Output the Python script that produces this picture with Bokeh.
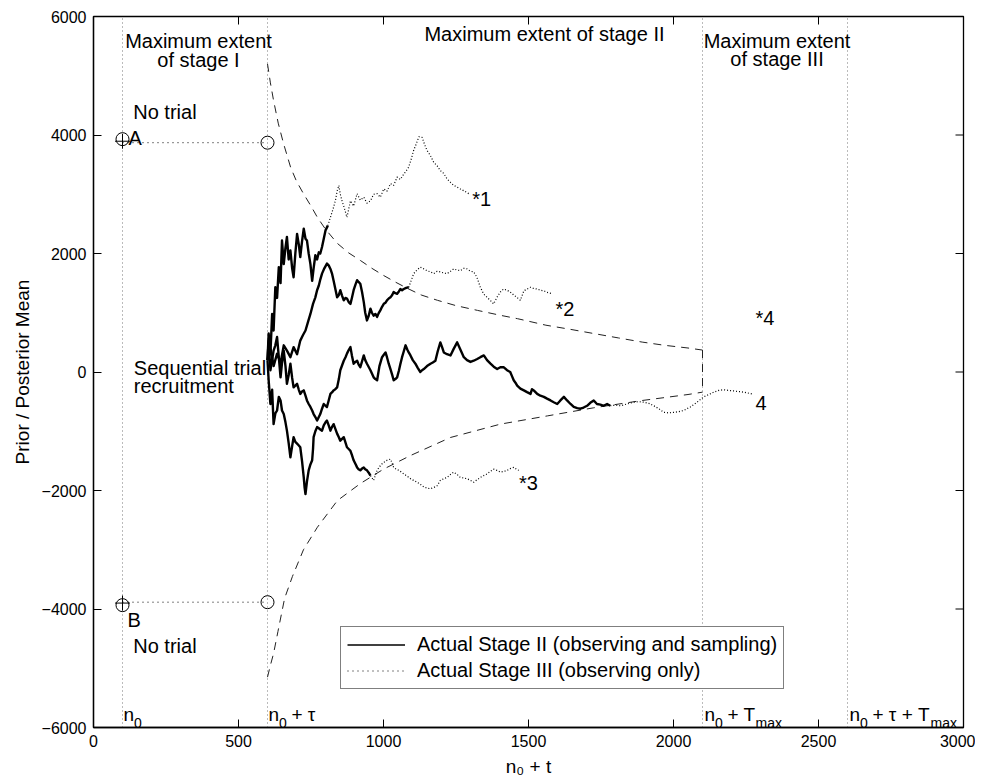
import math
from bokeh.plotting import figure
from bokeh.models import FixedTicker, Legend, LegendItem, Range1d, CustomJSTickFormatter
from bokeh.core.properties import value
from bokeh.embed import file_html
from bokeh.resources import INLINE

FONT = "Liberation Sans"

# ---------------- data ----------------
x_ticks = [0, 500, 1000, 1500, 2000, 2500, 3000]
y_ticks = [-6000, -4000, -2000, 0, 2000, 4000, 6000]
stage_x = [100, 600, 2100, 2600]

# prior means that lead to "no trial" (A above, B below)
ab_x = [100, 600]
a_circle_y = [3930, 3870]
a_plus_y = 3895
b_circle_y = [-3935, -3885]
b_plus_y = -3900

# stopping boundaries (dashed)
upper_x = [600, 610, 621, 637, 655, 680, 700, 724, 750, 772, 800, 841, 880, 921, 960, 1000,
           1040, 1083, 1130, 1186, 1250, 1324, 1400, 1462, 1560, 1650, 1730, 1810, 1892, 1970,
           2050, 2100]
upper_y = [5200, 4880, 4580, 4200, 3860, 3450, 3220, 3010, 2800, 2610, 2410, 2170, 2010, 1880,
           1750, 1630, 1520, 1410, 1300, 1210, 1120, 1040, 960, 900, 790, 715, 645, 575, 505,
           450, 405, 370]
lower_x = [600, 610, 621, 636, 659, 686, 724, 772, 841, 921, 1000, 1093, 1231, 1403, 1566,
           1725, 1892, 2050, 2100]
lower_y = [-5150, -4950, -4750, -4380, -3820, -3450, -3000, -2620, -2170, -1880, -1640, -1410,
           -1105, -880, -740, -604, -481, -380, -340]

# path 1 (ends at *1)
p1_s2_x = [600, 604, 610, 616, 621, 627, 633, 639, 645, 650, 656, 662, 667, 673, 679, 685, 690,
           696, 702, 708, 713, 719, 725, 731, 736, 742, 748, 754, 759, 765, 771, 777, 782, 788,
           794, 800, 808]
p1_s2_y = [200, 650, 300, 980, 700, 1430, 1250, 1770, 1500, 2220, 1820, 2100, 2280, 1900, 2050,
           1750, 1600, 2000, 2330, 2150, 1940, 2200, 2420, 2250, 2220, 2000, 1820, 1540, 1750,
           1970, 1900, 2020, 2000, 2110, 2250, 2390, 2470]
p1_s3_x = [808, 817, 826, 834, 840, 846, 851, 857, 866, 874, 880, 886, 897, 909, 920, 932, 943,
           955, 966, 978, 989, 1001, 1012, 1024, 1035, 1047, 1058, 1070, 1079, 1087, 1096, 1104,
           1113, 1122, 1133, 1141, 1150, 1162, 1173, 1185, 1196, 1208, 1219, 1231, 1242, 1254,
           1265, 1280, 1294]
p1_s3_y = [2470, 2610, 2750, 2890, 3050, 3150, 3000, 2890, 2750, 2610, 2750, 2890, 2800, 3010,
           2900, 2950, 2850, 2890, 3000, 3010, 2950, 3090, 3050, 3180, 3150, 3290, 3250, 3340,
           3400, 3460, 3600, 3740, 3850, 3970, 3960, 3850, 3740, 3650, 3540, 3480, 3400, 3350,
           3260, 3200, 3150, 3120, 3090, 3050, 3010]

# path 2 (ends at *2)
p2_s2_x = [600, 610, 621, 633, 645, 656, 667, 679, 690, 702, 713, 722, 731, 740, 748, 757, 765,
           771, 777, 782, 788, 796, 805, 811, 817, 823, 828, 834, 840, 846, 851, 857, 863, 869,
           874, 880, 886, 891, 897, 903, 909, 914, 920, 926, 932, 937, 943, 949, 955, 960, 966,
           972, 978, 983, 989, 995, 1001, 1007, 1012, 1018, 1024, 1030, 1035, 1041, 1047, 1053,
           1058, 1064, 1070, 1078, 1087]
p2_s2_y = [200, 400, 100, 310, 150, 450, 360, 250, 420, 300, 530, 620, 700, 850, 980, 1150, 1260,
           1380, 1460, 1560, 1660, 1750, 1830, 1800, 1740, 1650, 1540, 1400, 1260, 1300, 1380,
           1290, 1210, 1250, 1240, 1180, 1150, 1250, 1380, 1470, 1550, 1520, 1490, 1350, 1180,
           1000, 870, 950, 1070, 1000, 950, 980, 930, 990, 1040, 1100, 1150, 1170, 1210, 1240,
           1260, 1300, 1350, 1330, 1320, 1360, 1400, 1380, 1400, 1420, 1430]
p2_s3_x = [1087, 1096, 1104, 1115, 1127, 1139, 1150, 1162, 1173, 1185, 1196, 1208, 1219, 1231,
           1242, 1254, 1265, 1277, 1288, 1300, 1311, 1322, 1334, 1345, 1357, 1368, 1380, 1391,
           1403, 1414, 1426, 1437, 1449, 1460, 1472, 1484, 1495, 1507, 1518, 1530, 1541, 1553,
           1567, 1582]
p2_s3_y = [1430, 1550, 1660, 1720, 1770, 1740, 1710, 1690, 1660, 1700, 1690, 1670, 1660, 1700,
           1740, 1720, 1710, 1750, 1740, 1700, 1690, 1600, 1430, 1320, 1260, 1210, 1150, 1260,
           1350, 1400, 1380, 1350, 1300, 1260, 1210, 1370, 1400, 1430, 1410, 1400, 1380, 1370,
           1340, 1320]

# path 3 (reaches Tmax, ends at 4)
p3_s2_x = [600, 604, 610, 616, 621, 627, 633, 639, 645, 650, 656, 662, 667, 673, 679, 685, 690,
           696, 702, 708, 713, 719, 725, 731, 736, 742, 748, 754, 759, 765, 771, 777, 782, 788,
           794, 800, 805, 811, 817, 823, 828, 834, 840, 846, 851, 857, 863, 869, 874, 880, 886,
           891, 897, 903, 909, 914, 920, 926, 932, 937, 943, 955, 966, 972, 978, 986, 995, 1001,
           1007, 1012, 1018, 1024, 1030, 1035, 1041, 1047, 1053, 1058, 1064, 1070, 1076, 1082,
           1087, 1093, 1101, 1110, 1118, 1127, 1133, 1139, 1150, 1162, 1170, 1179, 1187, 1196,
           1202, 1208, 1219, 1231, 1242, 1254, 1265, 1277, 1288, 1300, 1311, 1323, 1334, 1346,
           1357, 1369, 1380, 1392, 1403, 1415, 1426, 1437, 1443, 1449, 1455, 1461, 1472, 1484,
           1495, 1507, 1512, 1518, 1524, 1530, 1541, 1553, 1564, 1576, 1587, 1599, 1610, 1622,
           1633, 1645, 1656, 1668, 1679, 1690, 1702, 1713, 1725, 1736, 1748, 1759, 1771, 1782]
p3_s2_y = [200, 530, 30, 200, 360, 450, 590, 250, -90, 150, 360, 100, -200, -50, 140, -100, -260,
           -230, -200, -300, -370, -330, -310, -400, -480, -540, -590, -650, -710, -760, -820,
           -760, -710, -620, -540, -570, -590, -480, -370, -340, -310, -290, -260, -120, 30, 110,
           190, 250, 310, 370, 420, 280, 140, 170, 190, 130, 80, 180, 280, 200, 140, 30, -90, -120,
           -140, 100, 250, 290, 330, 250, 140, 50, -50, -140, -120, -90, 20, 130, 250, 350, 450,
           380, 330, 280, 200, 140, 70, 0, 30, 50, 100, 140, 160, 190, 350, 500, 420, 330, 300,
           280, 390, 500, 380, 250, 200, 170, 190, 220, 250, 280, 200, 140, 90, 50, 80, 80, 30, 0,
           -70, -140, -180, -230, -280, -310, -340, -370, -290, -310, -340, -370, -400, -420,
           -450, -480, -510, -540, -480, -420, -480, -540, -590, -610, -620, -600, -570, -520,
           -480, -540, -550, -570, -540, -570]
p3_s3_x = [1782, 1800, 1817, 1840, 1863, 1880, 1897, 1915, 1932, 1950, 1966, 1984, 2001, 2018,
           2035, 2058, 2081, 2104, 2122, 2139, 2156, 2173, 2190, 2208, 2225, 2242, 2257, 2271]
p3_s3_y = [-570, -560, -570, -540, -510, -500, -510, -530, -570, -620, -680, -690, -680, -670,
           -650, -590, -510, -420, -380, -340, -310, -300, -310, -320, -330, -340, -355, -370]

# path 4 (ends at *3)
p4_s2_x = [600, 604, 610, 616, 621, 627, 633, 639, 645, 650, 656, 662, 667, 673, 679, 685, 690,
           696, 702, 708, 713, 719, 725, 728, 731, 736, 742, 748, 754, 757, 759, 765, 771, 777,
           782, 788, 794, 800, 805, 811, 817, 823, 828, 834, 840, 846, 851, 857, 863, 869, 874,
           880, 886, 891, 897, 903, 909, 914, 920, 926, 932, 937, 943, 949, 955]
p4_s2_y = [200, -140, -540, -300, -880, -700, -650, -420, -480, -650, -710, -850, -990, -1200,
           -1440, -1250, -1100, -1180, -1210, -1240, -1270, -1500, -1780, -1950, -2060, -1850,
           -1660, -1560, -1490, -1300, -1100, -1000, -930, -950, -970, -990, -900, -850, -820,
           -900, -990, -920, -880, -960, -1040, -1100, -1160, -1130, -1100, -1190, -1270, -1300,
           -1330, -1400, -1490, -1550, -1610, -1640, -1660, -1630, -1610, -1640, -1660, -1700,
           -1750]
p4_s3_x = [955, 966, 972, 978, 986, 995, 1003, 1012, 1024, 1030, 1035, 1044, 1053, 1062, 1070,
           1082, 1093, 1104, 1116, 1128, 1139, 1150, 1162, 1173, 1185, 1196, 1208, 1219, 1231,
           1242, 1254, 1265, 1277, 1288, 1300, 1311, 1322, 1334, 1345, 1357, 1368, 1380, 1391,
           1403, 1414, 1426, 1437, 1449, 1458, 1466]
p4_s3_y = [-1750, -1830, -1740, -1660, -1600, -1550, -1520, -1490, -1470, -1540, -1610, -1640,
           -1660, -1690, -1720, -1760, -1800, -1830, -1860, -1900, -1940, -1960, -1970, -1950,
           -1920, -1830, -1800, -1780, -1730, -1690, -1730, -1780, -1790, -1800, -1830, -1860,
           -1820, -1780, -1750, -1720, -1680, -1640, -1660, -1690, -1680, -1660, -1630, -1610,
           -1640, -1660]

# ---------------- figure ----------------
X0, X1, Y0, Y1 = 0, 3000, -6000, 6000
p = figure(frame_width=870, frame_height=711,
           x_range=Range1d(X0, X1), y_range=Range1d(Y0, Y1),
           output_backend="svg", toolbar_location=None,
           min_border_left=93, min_border_right=12, min_border_top=16, min_border_bottom=40,
           background_fill_color="white", border_fill_color="white")
p.xgrid.visible = False
p.ygrid.visible = False
p.outline_line_color = "black"
p.outline_line_width = 1.3

for ax, ticks in ((p.xaxis[0], x_ticks), (p.yaxis[0], y_ticks)):
    ax.ticker = FixedTicker(ticks=ticks)
    ax.axis_line_color = "black"
    ax.axis_line_width = 1.3
    ax.major_tick_line_color = "black"
    ax.major_tick_in = 8
    ax.major_tick_out = 0
    ax.minor_tick_line_color = None
    ax.major_label_text_font = FONT
    ax.major_label_text_color = "black"
    ax.major_label_text_font_size = "16px"
    ax.major_label_standoff = 7
    ax.axis_label_text_font = FONT
    ax.axis_label_text_font_size = "19px"
    ax.axis_label_text_font_style = "normal"
    ax.axis_label_text_color = "black"
p.yaxis[0].formatter = CustomJSTickFormatter(
    code="return tick < 0 ? '\u2212' + Math.abs(tick) : String(tick);")
p.xaxis[0].axis_label = "n\u2080 + t"
p.yaxis[0].axis_label = "Prior / Posterior Mean"
p.xaxis[0].axis_label_standoff = 6
p.yaxis[0].axis_label_standoff = 6

# inward ticks on the top and right edges of the box (half of each dash is clipped by the frame)
p.scatter(x=x_ticks, y=[Y1] * len(x_ticks), marker="dash", angle=math.pi / 2, size=16,
          line_color="black", line_width=1)
p.scatter(x=[X1] * len(y_ticks), y=y_ticks, marker="dash", size=16,
          line_color="black", line_width=1)

# vertical stage lines
p.segment(x0=stage_x, y0=[Y0] * 4, x1=stage_x, y1=[Y1] * 4,
          line_color="#777777", line_width=1, line_dash="1 3")

# A / B no-trial lines
p.line(x=ab_x, y=[a_circle_y[1]] * 2, line_color="black", line_width=1, line_dash="1 4")
p.line(x=ab_x, y=[b_circle_y[1]] * 2, line_color="black", line_width=1, line_dash="1 4")
p.scatter(x=ab_x, y=a_circle_y, marker="circle", size=13, fill_color=None, line_color="black", line_width=1)
p.scatter(x=ab_x, y=b_circle_y, marker="circle", size=13, fill_color=None, line_color="black", line_width=1)
p.scatter(x=[ab_x[0], ab_x[0]], y=[a_plus_y, b_plus_y], marker="cross", size=15, line_color="black", line_width=1)

# boundaries
p.line(x=upper_x, y=upper_y, line_color="#222222", line_width=1, line_dash="8 6")
p.line(x=lower_x, y=lower_y, line_color="#222222", line_width=1, line_dash="8 6")
p.segment(x0=[upper_x[-1]], y0=[upper_y[-1]], x1=[lower_x[-1]], y1=[lower_y[-1]],
          line_color="#222222", line_width=1, line_dash="8 6")

# paths
for sx, sy in ((p1_s3_x, p1_s3_y), (p2_s3_x, p2_s3_y), (p3_s3_x, p3_s3_y), (p4_s3_x, p4_s3_y)):
    p.line(x=sx, y=sy, line_color="black", line_width=1.2, line_dash="1 2")
for sx, sy in ((p1_s2_x, p1_s2_y), (p2_s2_x, p2_s2_y), (p3_s2_x, p3_s2_y), (p4_s2_x, p4_s2_y)):
    p.line(x=sx, y=sy, line_color="black", line_width=2.4, line_join="round")


def txt(x, y, s, size="20px", align="left", xo=0, yo=0):
    p.text(x=[x], y=[y], text=[s], text_font=value(FONT), text_font_size=size,
           text_align=align, text_baseline="alphabetic", x_offset=xo, y_offset=yo,
           text_color="black")


txt(362, 5583, "Maximum extent", align="center")
txt(362, 5273, "of stage I", align="center")
txt(1555, 5708, "Maximum extent of stage II", align="center")
txt(2357, 5594, "Maximum extent", align="center")
txt(2357, 5285, "of stage III", align="center")
txt(137, 4383, "No trial")
txt(137, -4630, "No trial")
txt(121, 3955, "A")
txt(117, -4191, "B")
txt(139, 73, "Sequential trial")
txt(139, -236, "recruitment")
txt(1306, 2919, "*1")
txt(1593, 1060, "*2")
txt(1467, -1870, "*3")
txt(2283, 918, "*4")
txt(2283, -518, "4")

# stage time labels with subscripts
base_y = -5779
txt(stage_x[0], base_y, "n", size="19px", xo=1)
txt(stage_x[0], base_y, "0", size="14px", xo=11.5, yo=9)
txt(stage_x[1], base_y, "n", size="19px", xo=1)
txt(stage_x[1], base_y, "0", size="14px", xo=11.5, yo=9)
txt(stage_x[1], base_y, "+ \u03c4", size="19px", xo=24)
txt(stage_x[2], base_y, "n", size="19px", xo=2)
txt(stage_x[2], base_y, "0", size="14px", xo=12.5, yo=9)
txt(stage_x[2], base_y, "+ T", size="19px", xo=25)
txt(stage_x[2], base_y, "max", size="14px", xo=53, yo=9)
txt(stage_x[3], base_y, "n", size="19px", xo=2)
txt(stage_x[3], base_y, "0", size="14px", xo=12.5, yo=9)
txt(stage_x[3], base_y, "+ \u03c4 + T", size="19px", xo=25)
txt(stage_x[3], base_y, "max", size="14px", xo=83, yo=9)

# legend (sample renderers lie outside the visible range, so only the legend shows them)
leg_solid = p.line(x=[X0 - 500, X0 - 400], y=[0, 0], line_color="black", line_width=1.5)
leg_dot = p.line(x=[X0 - 500, X0 - 400], y=[0, 0], line_color="black", line_width=1, line_dash="1 4")
legend = Legend(items=[
    LegendItem(label="Actual Stage II (observing and sampling)", renderers=[leg_solid]),
    LegendItem(label="Actual Stage III (observing only)", renderers=[leg_dot]),
], location=(247, 38))
legend.label_text_font = FONT
legend.label_text_font_size = "20px"
legend.label_text_color = "black"
legend.glyph_width = 58
legend.glyph_height = 21
legend.label_height = 21
legend.label_standoff = 12
legend.padding = 6
legend.spacing = 3
legend.margin = 0
legend.border_line_color = "black"
legend.border_line_width = 1
legend.background_fill_alpha = 1
p.add_layout(legend)

open("out.html", "w").write(file_html(p, INLINE))
